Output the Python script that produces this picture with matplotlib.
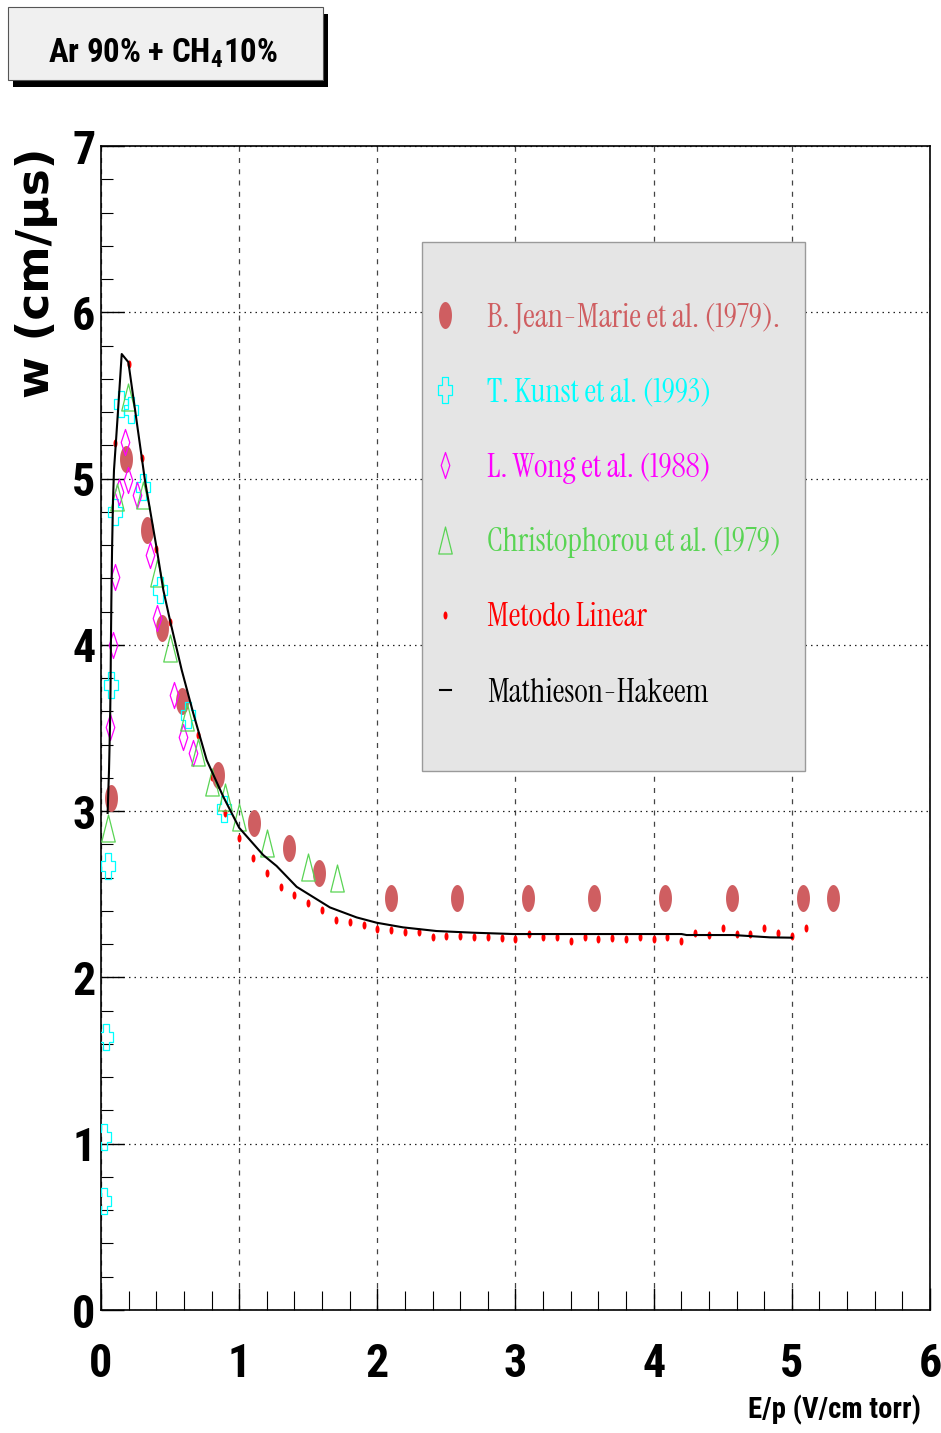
import numpy as np
import matplotlib
matplotlib.use('Agg')
import matplotlib.pyplot as plt
from matplotlib.path import Path
from matplotlib.patches import Rectangle
from matplotlib.ticker import MultipleLocator
from matplotlib.textpath import TextPath
from matplotlib import font_manager as fm

# ---------------- data ----------------
jm_x = [0.072, 0.18, 0.333, 0.441, 0.586, 0.847, 1.107, 1.36, 1.58,
        2.10, 2.58, 3.09, 3.57, 4.08, 4.565, 5.08, 5.30]
jm_y = [3.08, 5.12, 4.69, 4.10, 3.66, 3.22, 2.93, 2.78, 2.63,
        2.48, 2.48, 2.48, 2.48, 2.48, 2.48, 2.48, 2.48]

kunst_x = [0.022, 0.022, 0.036, 0.051, 0.070, 0.101, 0.143, 0.215, 0.306, 0.43, 0.627, 0.892]
kunst_y = [0.655, 1.04, 1.64, 2.67, 3.76, 4.80, 5.45, 5.41, 4.95, 4.33, 3.58, 3.01]

wong_x = [0.065, 0.089, 0.101, 0.130, 0.174, 0.198, 0.263, 0.355, 0.403, 0.526, 0.596, 0.664]
wong_y = [3.506, 3.999, 4.408, 4.921, 5.221, 4.991, 4.901, 4.540, 4.161, 3.698, 3.447, 3.348]

chr_x = [0.053, 0.114, 0.198, 0.306, 0.403, 0.499, 0.620, 0.704, 0.801, 0.897,
         1.001, 1.199, 1.500, 1.706]
chr_y = [2.898, 4.891, 5.492, 4.901, 4.430, 3.979, 3.568, 3.357, 3.177, 3.087,
         2.966, 2.806, 2.666, 2.596]

lin_x = [0.1, 0.2, 0.3, 0.4, 0.5, 0.6, 0.7, 0.8, 0.9, 1.0,
         1.1, 1.2, 1.3, 1.4, 1.5, 1.6, 1.7, 1.8, 1.9, 2.0,
         2.1, 2.2, 2.3, 2.4, 2.5, 2.6, 2.7, 2.8, 2.9, 3.0,
         3.1, 3.2, 3.3, 3.4, 3.5, 3.6, 3.7, 3.8, 3.9, 4.0,
         4.1, 4.2, 4.3, 4.4, 4.5, 4.6, 4.7, 4.8, 4.9, 5.0, 5.1]
lin_y = [5.213, 5.689, 5.121, 4.574, 4.139, 3.700, 3.458, 3.207, 2.987, 2.836,
         2.718, 2.630, 2.545, 2.498, 2.446, 2.405, 2.345, 2.335, 2.315, 2.291,
         2.285, 2.271, 2.271, 2.245, 2.251, 2.251, 2.245, 2.245, 2.235, 2.229,
         2.259, 2.245, 2.241, 2.219, 2.241, 2.234, 2.238, 2.231, 2.241, 2.231,
         2.241, 2.219, 2.269, 2.255, 2.295, 2.261, 2.261, 2.295, 2.269, 2.249, 2.299]

mh_x = [0.048, 0.058, 0.065, 0.069, 0.072, 0.075, 0.080, 0.087, 0.094, 0.109, 0.125,
        0.150, 0.198, 0.318, 0.403, 0.451, 0.499, 0.584, 0.668, 0.765, 0.885, 1.0,
        1.174, 1.271, 1.416, 1.657, 1.850, 1.995, 2.187, 2.429, 2.694, 2.983,
        3.659, 4.202, 4.238, 4.575, 4.841, 5.0]
mh_y = [2.989, 3.247, 3.506, 3.728, 4.029, 4.269, 4.570, 4.871, 5.051, 5.232, 5.430,
        5.749, 5.700, 4.990, 4.580, 4.330, 4.149, 3.849, 3.588, 3.307, 3.087, 2.900,
        2.736, 2.670, 2.545, 2.421, 2.361, 2.329, 2.301, 2.279, 2.269, 2.261,
        2.261, 2.261, 2.255, 2.255, 2.241, 2.239]

labels = ['B. Jean-Marie et al. (1979).', 'T. Kunst et al. (1993)', 'L. Wong et al. (1988)',
          'Christophorou et al. (1979)', 'Metodo Linear', 'Mathieson-Hakeem']
x_ticks = [0, 1, 2, 3, 4, 5, 6]
y_ticks = [0, 1, 2, 3, 4, 5, 6, 7]
title_txt = r'Ar 90% + CH$_\mathregular{4}$10%'
xlabel_txt = 'E/p (V/cm torr)'
ylabel_txt = 'w (cm/\u03bcs)'

# ---------------- styling ----------------
C_JM = '#cf5e61'
C_KU = '#00ffff'
C_WO = '#ff00ff'
C_CH = '#59d454'
C_LI = '#ff0000'
C_MH = '#000000'


def _w(f):
    w = f.weight
    if isinstance(w, str):
        w = fm.weight_dict.get(w, 400)
    return w


def pick_font(names, want, lo, hi):
    for nm in names:
        c = [f for f in fm.fontManager.ttflist if f.name == nm and f.style == 'normal']
        if not c:
            continue
        best = min(c, key=lambda f: abs(_w(f) - want))
        if lo <= _w(best) <= hi:
            return best.fname
    return None


sans_file = pick_font(['Roboto Condensed', 'IBM Plex Sans Condensed', 'Archivo Narrow',
                       'PT Sans Narrow', 'Fira Sans Condensed', 'Barlow Condensed',
                       'Asap Condensed', 'Encode Sans Condensed'], 700, 600, 800)
serif_file = pick_font(['Instrument Serif', 'Oranienbaum', 'Cormorant', 'Tinos'], 400, 300, 500)


def sans_fp(size):
    if sans_file:
        return fm.FontProperties(fname=sans_file, size=size)
    return fm.FontProperties(family='Liberation Sans', weight='bold', size=size)


def serif_fp(size):
    if serif_file:
        return fm.FontProperties(fname=serif_file, size=size)
    return fm.FontProperties(family='Liberation Serif', size=size)


def glyph_box(s, fp):
    """glyph extents (width, height) in points for a 1 pt font size"""
    e = TextPath((0, 0), s, size=1, prop=fp).get_extents()
    return e.width, e.height


PX2PT = 72 / 100.0  # points per pixel at dpi 100


def ellipse_path(ratio):
    t = np.linspace(0, 2 * np.pi, 49)
    return Path(np.column_stack([ratio * np.cos(t), np.sin(t)]), closed=True)


def cross_path(ratio, th=0.4):
    p = [(-th, 1), (th, 1), (th, th), (1, th), (1, -th), (th, -th), (th, -1), (-th, -1),
         (-th, -th), (-1, -th), (-1, th), (-th, th), (-th, 1)]
    v = np.array(p, float)
    v[:, 0] *= ratio
    return Path(v, closed=True)


def diamond_path(ratio):
    v = np.array([(0, 1), (ratio, 0), (0, -1), (-ratio, 0), (0, 1)], float)
    return Path(v, closed=True)


def triangle_path(ratio):
    v = np.array([(-ratio, -1), (ratio, -1), (0, 1), (-ratio, -1)], float)
    return Path(v, closed=True)


W, H = 941, 1433
fig = plt.figure(figsize=(W / 100, H / 100), dpi=100)
fig.patch.set_facecolor('white')
renderer = fig.canvas.get_renderer()


def fit_size(s, fp_factory, target_w, max_h=None, hs='A'):
    t = fig.text(0, 0, s, fontproperties=fp_factory(10))
    w = t.get_window_extent(renderer).width
    t.remove()
    size = 10 * target_w / w
    if max_h is not None:
        _, gh = glyph_box(hs, fp_factory(10))
        size = min(size, max_h * PX2PT / gh)
    return size


ax = fig.add_axes([101 / W, 1 - 1310 / H, (930 - 101) / W, (1310 - 146) / H])

h_jm, = ax.plot(jm_x, jm_y, ls='none', marker=ellipse_path(0.48), ms=27 * PX2PT,
                mfc=C_JM, mec=C_JM, mew=0, zorder=4, label=labels[0])
h_ku, = ax.plot(kunst_x, kunst_y, ls='none', marker=cross_path(0.5), ms=27 * PX2PT,
                mfc='none', mec=C_KU, mew=0.9, zorder=5, label=labels[1])
h_wo, = ax.plot(wong_x, wong_y, ls='none', marker=diamond_path(0.33), ms=26 * PX2PT,
                mfc='none', mec=C_WO, mew=0.9, zorder=5, label=labels[2])
h_ch, = ax.plot(chr_x, chr_y, ls='none', marker=triangle_path(0.5), ms=27 * PX2PT,
                mfc='none', mec=C_CH, mew=0.9, zorder=5, label=labels[3])
h_li, = ax.plot(lin_x, lin_y, ls='none', marker=ellipse_path(0.5), ms=8 * PX2PT,
                mfc=C_LI, mec=C_LI, mew=0, zorder=3.5, label=labels[4])
h_mh, = ax.plot(mh_x, mh_y, color=C_MH, lw=1.5, zorder=6, label=labels[5])

ax.set_xlim(0, 6)
ax.set_ylim(0, 7)
ax.xaxis.set_minor_locator(MultipleLocator(0.2))
ax.yaxis.set_minor_locator(MultipleLocator(0.2))
ax.set_xticks(x_ticks)
ax.set_yticks(y_ticks)

# tick label size: digit about 35 px tall, at most 19 px wide
gw, gh = glyph_box('0', sans_fp(10))
tick_size = min(35 * PX2PT / gh, 19 * PX2PT / gw)
fp_tick = sans_fp(tick_size)
ax.set_xticklabels([str(v) for v in x_ticks], fontproperties=fp_tick)
ax.set_yticklabels([str(v) for v in y_ticks], fontproperties=fp_tick)
for lab in ax.get_xticklabels():
    lab.set_verticalalignment('baseline')

ax.tick_params(axis='x', which='major', direction='in', length=16, width=1.0,
               top=False, pad=67 * PX2PT)
ax.tick_params(axis='x', which='minor', direction='in', length=14, width=0.8, top=False)
ax.tick_params(axis='y', which='major', direction='in', length=16.5, width=1.0,
               right=False, pad=4)
ax.tick_params(axis='y', which='minor', direction='in', length=8.5, width=0.8, right=False)

for s in ax.spines.values():
    s.set_linewidth(1.2)
    s.set_color('black')

ax.grid(True, which='major', axis='y', color='#222222', lw=0.9, ls=(0, (1.2, 3.2)))
ax.grid(True, which='major', axis='x', color='#444444', lw=0.9, ls=(0, (4, 5)))
ax.set_axisbelow(True)

# y label (wide bold sans)
yl_fp = lambda sz: fm.FontProperties(family='DejaVu Sans', weight='bold', size=sz)
yl_size = fit_size(ylabel_txt, yl_fp, 250)
fig.text(37 / W, 1 - 273 / H, ylabel_txt, rotation=90, ha='center', va='center',
         fontproperties=yl_fp(yl_size))

# x label
xl_size = fit_size(xlabel_txt, sans_fp, 173, max_h=36, hs='E')
fig.text(921 / W, 1 - 1418 / H, xlabel_txt, ha='right', va='baseline',
         fontproperties=sans_fp(xl_size))

# title box with shadow
fig.patches.append(Rectangle((13 / W, 1 - 87 / H), 315 / W, 73 / H, transform=fig.transFigure,
                             facecolor='black', edgecolor='none', zorder=1))
fig.patches.append(Rectangle((8 / W, 1 - 80 / H), 315 / W, 73 / H, transform=fig.transFigure,
                             facecolor='#f0f0f0', edgecolor='#555555', lw=0.8, zorder=2))
ti_size = fit_size(title_txt, sans_fp, 232, max_h=40, hs='A')
fig.text(163 / W, 1 - 62 / H, title_txt, ha='center', va='baseline',
         fontproperties=sans_fp(ti_size), zorder=3)

# legend box
fig.patches.append(Rectangle((422 / W, 1 - 771 / H), 383 / W, 529 / H, transform=fig.transFigure,
                             facecolor='#e5e5e5', edgecolor='#9a9a9a', lw=1.0, zorder=3))
leg_size = fit_size(labels[0], serif_fp, 296, max_h=37, hs='B')
leg_px = leg_size / PX2PT
tmp = fig.text(0, 0, labels[0], fontproperties=serif_fp(leg_size))
row_h = tmp.get_window_extent(renderer).height
tmp.remove()
pitch = 75.0
handle_px = 11.0
leg = fig.legend([h_jm, h_ku, h_wo, h_ch, h_li, h_mh], labels,
                 loc='upper left', bbox_to_anchor=(439.5 / W, 1 - (318 - row_h / 2) / H),
                 bbox_transform=fig.transFigure, frameon=False, numpoints=1,
                 handlelength=handle_px / leg_px,
                 handletextpad=(487 - 439.5 - handle_px) / leg_px,
                 labelspacing=(pitch - row_h) / leg_px,
                 borderpad=0, borderaxespad=0,
                 prop=serif_fp(leg_size),
                 labelcolor=[C_JM, C_KU, C_WO, C_CH, C_LI, C_MH])
leg.set_zorder(5)

fig.savefig('out.png', dpi=100, facecolor='white')
